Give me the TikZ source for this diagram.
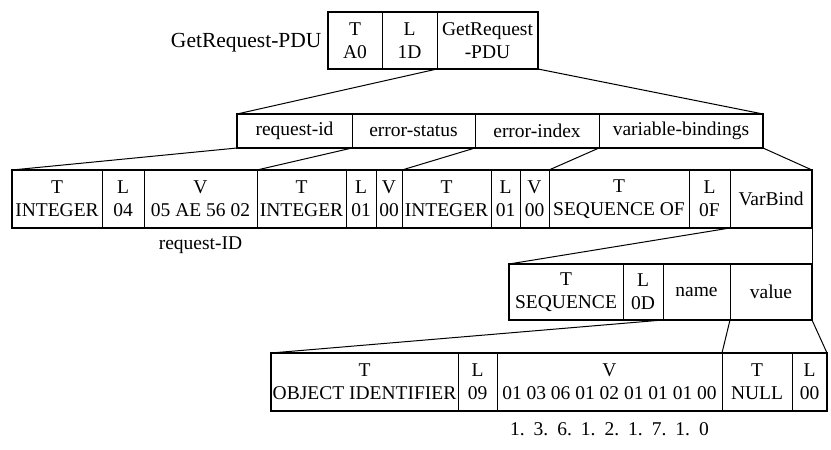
\documentclass[tikz,border=0pt]{standalone}
\usepackage{fontspec}
\setmainfont{Liberation Serif}
\usetikzlibrary{positioning}

\begin{document}
\begin{tikzpicture}[%
	x=1pt,y=-1pt,node distance=0pt,
	every node/.style={font=\fontsize{19.5}{23}\selectfont},
	cell/.style={draw,line width=0.6pt,inner sep=0pt,outer sep=0pt,
		align=center,minimum height=#1},
	cell/.default=58pt,
	frame/.style={line width=1.5pt},
	link/.style={line width=1pt}]

	\useasboundingbox (0,0) rectangle (831,450);

	\node[cell=57pt,anchor=north west,minimum width=54pt]	(TA)	at (328,12)			{T\\A0};
	\node[cell=57pt,minimum width=55pt]		(LA)	[right=of TA]		{L\\1D};
	\node[cell=57pt,minimum width=101pt]	(PDU)	[right=of LA]		{GetRequest\\-PDU};
	\node[font=\fontsize{21.5}{25}\selectfont]	(GRP)	[left=3pt of TA,yshift=-2pt]	{GetRequest-PDU};

	\node[cell=34pt,anchor=north west,minimum width=115pt]	(RID)	at (237,114)	{request-id};
	\node[cell=34pt,minimum width=123pt]	(EST)	[right=of RID]		{error-status};
	\node[cell=34pt,minimum width=124pt]	(EIX)	[right=of EST]		{error-index};
	\node[cell=34pt,minimum width=164pt]	(VB)	[right=of EIX]		{variable-bindings};

	\node[cell,anchor=north west,minimum width=90pt]	(TI1)	at (12,170)		{T\\INTEGER};
	\node[cell,minimum width=42pt]		(LI1)	[right=of TI1]		{L\\04};
	\node[cell,minimum width=113pt]		(VI1)	[right=of LI1]		{V\\05 AE 56 02};
	\node[cell,minimum width=89pt]		(TI2)	[right=of VI1]		{T\\INTEGER};
	\node[cell,minimum width=30pt]		(LI2)	[right=of TI2]		{L\\01};
	\node[cell,minimum width=26pt]		(VI2)	[right=of LI2]		{V\\00};
	\node[cell,minimum width=89pt]		(TI3)	[right=of VI2]		{T\\INTEGER};
	\node[cell,minimum width=29pt]		(LI3)	[right=of TI3]		{L\\01};
	\node[cell,minimum width=29pt]		(VI3)	[right=of LI3]		{V\\00};
	\node[cell,minimum width=140pt]		(TSO)	[right=of VI3]		{T\\SEQUENCE OF};
	\node[cell,minimum width=41pt]		(LSO)	[right=of TSO]		{L\\0F};
	\node[cell,minimum width=82pt]		(VBD)	[right=of LSO]		{VarBind};
	\node								(RQI)	[below=5pt of VI1]	{request-ID};

	\node[cell=56pt,anchor=north west,minimum width=114pt]	(TSQ)	at (509,264)	{T\\SEQUENCE};
	\node[cell=56pt,minimum width=40pt]		(LSQ)	[right=of TSQ]		{L\\0D};
	\node[cell=56pt,minimum width=67pt]		(NAM)	[right=of LSQ]		{name};
	\node[cell=56pt,minimum width=82pt]		(VAL)	[right=of NAM]		{value};

	\node[cell,anchor=north west,minimum width=187pt]	(TOI)	at (271,353)	{T\\OBJECT IDENTIFIER};
	\node[cell,minimum width=39pt]		(LOI)	[right=of TOI]		{L\\09};
	\node[cell,minimum width=225pt]		(VOI)	[right=of LOI]		{V\\01 03 06 01 02 01 01 01 00};
	\node[cell,minimum width=70pt]		(TNL)	[right=of VOI]		{T\\NULL};
	\node[cell,minimum width=35pt]		(LNL)	[right=of TNL]		{L\\00};
	\node								(OID)	[below=8pt of VOI]	{1.\hspace{9pt}3.\hspace{9pt}6.\hspace{9pt}1.\hspace{9pt}2.\hspace{9pt}1.\hspace{9pt}7.\hspace{9pt}1.\hspace{9pt}0};

	\draw[frame] (TA.north west) rectangle (PDU.south east);
	\draw[frame] (RID.north west) rectangle (VB.south east);
	\draw[frame] (TI1.north west) rectangle (VBD.south east);
	\draw[frame] (TSQ.north west) rectangle (VAL.south east);
	\draw[frame] (TOI.north west) rectangle (LNL.south east);

	\draw[link] (PDU.south west) -- (RID.north west);
	\draw[link] (PDU.south east) -- (VB.north east);
	\draw[link] (RID.south west) -- (TI1.north west);
	\draw[link] (RID.south east) -- (TI2.north west);
	\draw[link] (EST.south east) -- (TI3.north west);
	\draw[link] (EIX.south east) -- (TSO.north west);
	\draw[link] (VB.south east)  -- (VBD.north east);
	\draw[link] (VBD.south west) -- (TSQ.north west);
	\draw[link] (VBD.south east) -- (VAL.north east);
	\draw[link] (LSQ.south east) -- (TOI.north west);
	\draw[link] (VAL.south west) -- (TNL.north west);
	\draw[link] (VAL.south east) -- (LNL.north east);

\end{tikzpicture}
\end{document}
